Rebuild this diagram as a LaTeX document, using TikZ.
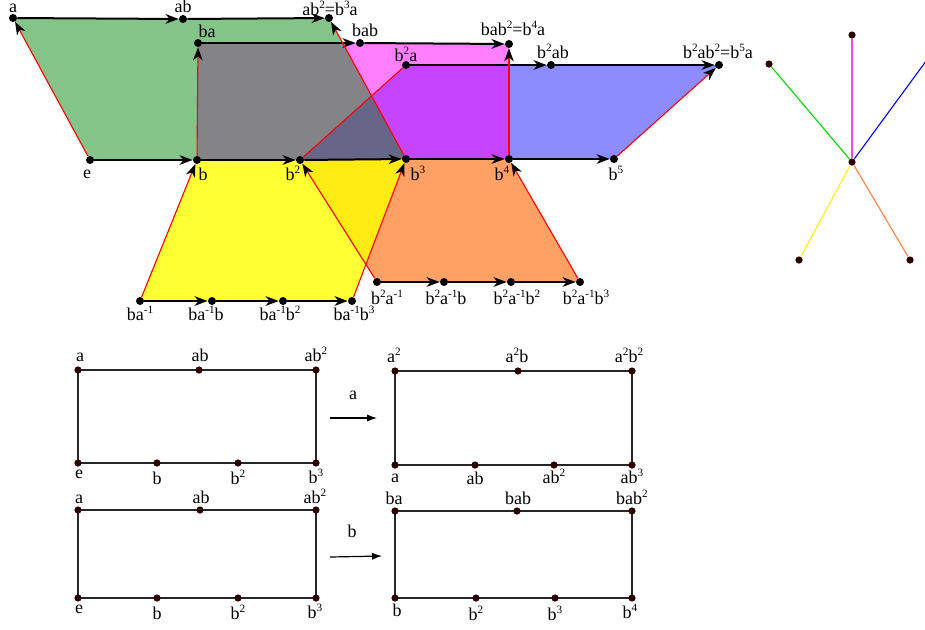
\documentclass[tikz,border=0pt]{standalone}
\usepackage{fontspec}
\setmainfont{Liberation Serif}
\usetikzlibrary{arrows.meta,backgrounds}

\definecolor{greenface}{RGB}{11,137,19}
\definecolor{pinkface}{RGB}{255,0,255}
\definecolor{blueface}{RGB}{25,25,255}
\definecolor{yellowface}{RGB}{255,255,0}
\definecolor{orangeface}{RGB}{255,136,61}
\definecolor{dotbrown}{RGB}{45,0,0}
\definecolor{starpink}{RGB}{240,70,240}
\definecolor{starorange}{RGB}{255,128,64}

\newcommand{\sq}[1]{\raisebox{0.75ex}{\fontsize{5.6}{6}\selectfont #1}}

\begin{document}
\begin{tikzpicture}[
  x=0.5pt, y=-0.5pt,
  >={Stealth[length=6.5pt,width=4.8pt,inset=2pt,color=black]},
  vert/.style={
    circle,
    fill=black,
    inner sep=0pt,
    minimum size=4pt
  },
  rvert/.style={
    circle,
    fill=dotbrown,
    inner sep=0pt,
    minimum size=3.6pt
  },
  lbl/.style={
    anchor=base,
    inner sep=0pt,
    font=\fontsize{9}{11}\selectfont
  },
  gen/.style={
    ->,
    line width=1pt,
    black
  },
  rel/.style={
    ->,
    line width=0.55pt,
    red
  },
  face/.style={fill opacity=0.5},
  lowface/.style={fill opacity=0.8},
  rline/.style={
    line width=0.8pt,
    black!85
  },
  map/.style={
    -{Latex[length=5pt,width=3.6pt]},
    line width=0.6pt,
    black
  },
  star/.style={line width=0.55pt}
]
\useasboundingbox (0,0) rectangle (925,629);
\clip (0,0) rectangle (925,629);

% vertices of the complex
\node[vert] (a) at (13,18) {};
\node[vert] (ab) at (183,19) {};
\node[vert] (ab2) at (329,18) {};
\node[vert] (ba) at (198,43) {};
\node[vert] (bab) at (360,43) {};
\node[vert] (bab2) at (509,44) {};
\node[vert] (b2a) at (406,65) {};
\node[vert] (b2ab) at (551,65) {};
\node[vert] (b2ab2) at (719,65) {};
\node[vert] (e) at (90,160) {};
\node[vert] (b1) at (197,160) {};
\node[vert] (b2) at (300,160) {};
\node[vert] (b3) at (406,159) {};
\node[vert] (b4) at (509,159) {};
\node[vert] (b5) at (614,159) {};
\node[vert] (bai) at (140,301) {};
\node[vert] (baib1) at (212,301) {};
\node[vert] (baib2) at (283,301) {};
\node[vert] (baib3) at (352,301) {};
\node[vert] (bbai) at (377,282) {};
\node[vert] (bbaib1) at (444,282) {};
\node[vert] (bbaib2) at (511,282) {};
\node[vert] (bbaib3) at (580,282) {};

% faces
\begin{scope}[on background layer]
\fill[lowface, orangeface] (bbai.center) -- (b2.center) -- (b3.center)
  -- (b4.center) -- (bbaib3.center) -- (bbaib2.center)
  -- (bbaib1.center) -- cycle;
\fill[lowface, yellowface] (bai.center) -- (b1.center) -- (b2.center)
  -- (b3.center) -- (baib3.center) -- (baib2.center)
  -- (baib1.center) -- cycle;
\fill[face, blueface] (b2.center) -- (b2a.center) -- (b2ab.center)
  -- (b2ab2.center) -- (b5.center) -- (b4.center) -- (b3.center) -- cycle;
\fill[face, pinkface] (b1.center) -- (ba.center) -- (bab.center)
  -- (bab2.center) -- (b4.center) -- (b3.center) -- (b2.center) -- cycle;
\fill[face, greenface] (e.center) -- (a.center) -- (ab.center)
  -- (ab2.center) -- (b3.center) -- (b2.center) -- (b1.center) -- cycle;
\end{scope}

% b-edges
\draw[gen] (a) -- (ab);
\draw[gen] (ab) -- (ab2);
\draw[gen] (ba) -- (bab);
\draw[gen] (bab) -- (bab2);
\draw[gen] (b2a) -- (b2ab);
\draw[gen] (b2ab) -- (b2ab2);
\draw[gen] (e) -- (b1);
\draw[gen] (b1) -- (b2);
\draw[gen] (b2) -- (b3);
\draw[gen] (b3) -- (b4);
\draw[gen] (b4) -- (b5);
\draw[gen] (bai) -- (baib1);
\draw[gen] (baib1) -- (baib2);
\draw[gen] (baib2) -- (baib3);
\draw[gen] (bbai) -- (bbaib1);
\draw[gen] (bbaib1) -- (bbaib2);
\draw[gen] (bbaib2) -- (bbaib3);

% a-edges
\draw[rel] (e) -- (a);
\draw[rel] (b1) -- (ba);
\draw[rel] (b3) -- (ab2);
\draw[rel] (b4) -- (bab2);
\draw[rel] (b5) -- (b2ab2);
\draw[rel, -] (b2) -- (b2a);
\draw[rel] (bai) -- (b1);
\draw[rel] (baib3) -- (b3);
\draw[rel] (bbai) -- (b2);
\draw[rel] (bbaib3) -- (b4);

% labels of the complex
\node[lbl] (t-a) at (13,12) {a};
\node[lbl] (t-ab) at (183,12) {ab};
\node[lbl] (t-ab2) at (330,15) {ab\sq{2}=b\sq{3}a};
\node[lbl] (t-ba) at (207,37) {ba};
\node[lbl] (t-bab) at (365,36) {bab};
\node[lbl] (t-bab2) at (513,35) {bab\sq{2}=b\sq{4}a};
\node[lbl] (t-b2a) at (406,61) {b\sq{2}a};
\node[lbl] (t-b2ab) at (553,58) {b\sq{2}ab};
\node[lbl] (t-b2ab2) at (718,58) {b\sq{2}ab\sq{2}=b\sq{5}a};
\node[lbl] (t-e) at (87,178) {e};
\node[lbl] (t-b1) at (203,180) {b};
\node[lbl] (t-b2) at (293,180) {b\sq{2}};
\node[lbl] (t-b3) at (418,180) {b\sq{3}};
\node[lbl] (t-b4) at (502,180) {b\sq{4}};
\node[lbl] (t-b5) at (616,180) {b\sq{5}};
\node[lbl] (t-bai) at (140,320) {ba\sq{-1}};
\node[lbl] (t-baib1) at (206,320) {ba\sq{-1}b};
\node[lbl] (t-baib2) at (280,320) {ba\sq{-1}b\sq{2}};
\node[lbl] (t-baib3) at (354,320) {ba\sq{-1}b\sq{3}};
\node[lbl] (t-bbai) at (387,304) {b\sq{2}a\sq{-1}};
\node[lbl] (t-bbaib1) at (446,304) {b\sq{2}a\sq{-1}b};
\node[lbl] (t-bbaib2) at (517,304) {b\sq{2}a\sq{-1}b\sq{2}};
\node[lbl] (t-bbaib3) at (586,304) {b\sq{2}a\sq{-1}b\sq{3}};

% link of the vertex
\node[rvert] (sc) at (852,162) {};
\node[rvert] (sg) at (769,64) {};
\node[rvert] (sm) at (852,35) {};
\node[rvert] (sbl) at (929,57) {};
\node[rvert] (sy) at (799,260) {};
\node[rvert] (so) at (910,260) {};
\draw[star, green!85!black] (sc) -- (sg);
\draw[star, starpink] (sc) -- (sm);
\draw[star, blue] (sc) -- (sbl);
\draw[star, yellow] (sc) -- (sy);
\draw[star, starorange] (sc) -- (so);

% action of a
\node[rvert] (r1a) at (78,370) {};
\node[rvert] (r1ab) at (199,370) {};
\node[rvert] (r1ab2) at (316,370) {};
\node[rvert] (r1e) at (78,463) {};
\node[rvert] (r1b) at (157,463) {};
\node[rvert] (r1b2) at (238,463) {};
\node[rvert] (r1b3) at (316,463) {};
\begin{scope}[on background layer]
\draw[rline] (r1e.center) -- (r1a.center) -- (r1ab.center) -- (r1ab2.center)
  -- (r1b3.center) -- (r1b2.center) -- (r1b.center) -- cycle;
\end{scope}
\node[lbl] (u-a) at (80,361) {a};
\node[lbl] (u-ab) at (200,361) {ab};
\node[lbl] (u-ab2) at (316,361) {ab\sq{2}};
\node[lbl] (u-e) at (79,478) {e};
\node[lbl] (u-b) at (157,484) {b};
\node[lbl] (u-b2) at (238,484) {b\sq{2}};
\node[lbl] (u-b3) at (316,483) {b\sq{3}};

\coordinate (ma0) at (330,418);
\coordinate (ma1) at (377,418);
\draw[map] (ma0) -- (ma1);
\node[lbl] (m-a) at (353,399) {a};

\node[rvert] (r2a2) at (395,371) {};
\node[rvert] (r2a2b) at (518,371) {};
\node[rvert] (r2a2b2) at (632,371) {};
\node[rvert] (r2a) at (395,465) {};
\node[rvert] (r2ab) at (475,465) {};
\node[rvert] (r2ab2) at (554,465) {};
\node[rvert] (r2ab3) at (632,465) {};
\begin{scope}[on background layer]
\draw[rline] (r2a.center) -- (r2a2.center) -- (r2a2b.center) -- (r2a2b2.center)
  -- (r2ab3.center) -- (r2ab2.center) -- (r2ab.center) -- cycle;
\end{scope}
\node[lbl] (v-a2) at (394,362) {a\sq{2}};
\node[lbl] (v-a2b) at (517,362) {a\sq{2}b};
\node[lbl] (v-a2b2) at (629,362) {a\sq{2}b\sq{2}};
\node[lbl] (v-a) at (395,482) {a};
\node[lbl] (v-ab) at (475,484) {ab};
\node[lbl] (v-ab2) at (554,483) {ab\sq{2}};
\node[lbl] (v-ab3) at (632,483) {ab\sq{3}};

% action of b
\node[rvert] (r3a) at (78,510) {};
\node[rvert] (r3ab) at (200,510) {};
\node[rvert] (r3ab2) at (316,510) {};
\node[rvert] (r3e) at (78,598) {};
\node[rvert] (r3b) at (157,598) {};
\node[rvert] (r3b2) at (238,598) {};
\node[rvert] (r3b3) at (316,598) {};
\begin{scope}[on background layer]
\draw[rline] (r3e.center) -- (r3a.center) -- (r3ab.center) -- (r3ab2.center)
  -- (r3b3.center) -- (r3b2.center) -- (r3b.center) -- cycle;
\end{scope}
\node[lbl] (w-a) at (79,503) {a};
\node[lbl] (w-ab) at (201,503) {ab};
\node[lbl] (w-ab2) at (315,503) {ab\sq{2}};
\node[lbl] (w-e) at (79,613) {e};
\node[lbl] (w-b) at (157,619) {b};
\node[lbl] (w-b2) at (238,619) {b\sq{2}};
\node[lbl] (w-b3) at (315,618) {b\sq{3}};

\coordinate (mb0) at (330,557);
\coordinate (mb1) at (382,556);
\draw[map] (mb0) -- (mb1);
\node[lbl] (m-b) at (352,537) {b};

\node[rvert] (r4ba) at (395,511) {};
\node[rvert] (r4bab) at (517,511) {};
\node[rvert] (r4bab2) at (632,511) {};
\node[rvert] (r4b) at (395,598) {};
\node[rvert] (r4b2) at (476,598) {};
\node[rvert] (r4b3) at (555,598) {};
\node[rvert] (r4b4) at (632,598) {};
\begin{scope}[on background layer]
\draw[rline] (r4b.center) -- (r4ba.center) -- (r4bab.center) -- (r4bab2.center)
  -- (r4b4.center) -- (r4b3.center) -- (r4b2.center) -- cycle;
\end{scope}
\node[lbl] (x-ba) at (394,504) {ba};
\node[lbl] (x-bab) at (518,504) {bab};
\node[lbl] (x-bab2) at (632,504) {bab\sq{2}};
\node[lbl] (x-b) at (397,616) {b};
\node[lbl] (x-b2) at (476,620) {b\sq{2}};
\node[lbl] (x-b3) at (555,620) {b\sq{3}};
\node[lbl] (x-b4) at (630,618) {b\sq{4}};

\end{tikzpicture}
\end{document}
